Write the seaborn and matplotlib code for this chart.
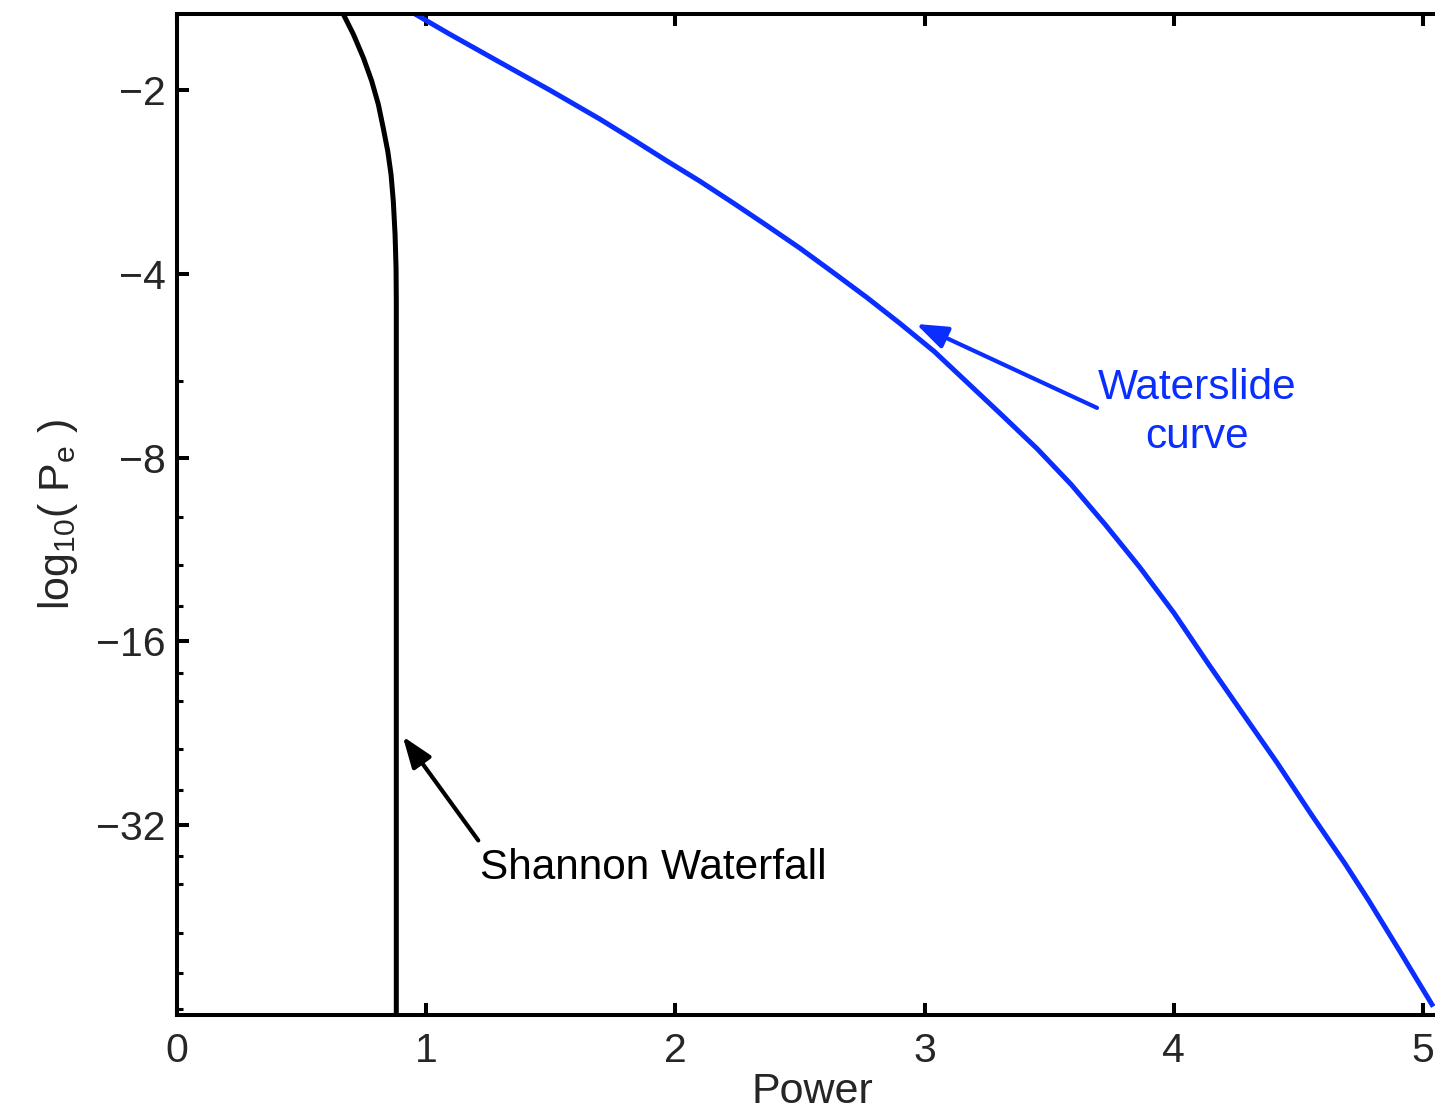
import numpy as np
import pandas as pd
import matplotlib
matplotlib.use("Agg")
import matplotlib.pyplot as plt
import seaborn as sns

# ---------------- data ----------------
shannon_power = [0.667, 0.708, 0.748, 0.781, 0.808, 0.828, 0.846, 0.859,
                 0.868, 0.875, 0.879, 0.880, 0.880, 0.880]
shannon_log10pe = [-1.50, -1.62, -1.77, -1.93, -2.11, -2.31, -2.52, -2.75,
                   -3.04, -3.44, -3.91, -4.43, -8.0, -66.0]

waterslide_power = [0.955, 1.096, 1.296, 1.497, 1.697, 1.831, 1.965, 2.099,
                    2.232, 2.366, 2.500, 2.634, 2.768, 2.901, 3.039, 3.176,
                    3.313, 3.451, 3.588, 3.726, 3.863, 4.001, 4.138, 4.276,
                    4.413, 4.551, 4.688, 4.781, 4.908, 5.041]
waterslide_log10pe = [-1.50, -1.62, -1.80, -2.00, -2.23, -2.41, -2.61, -2.82,
                      -3.06, -3.33, -3.63, -3.98, -4.37, -4.82, -5.36, -6.05,
                      -6.83, -7.73, -8.85, -10.31, -12.09, -14.38, -17.40, -20.98,
                      -25.24, -30.70, -37.06, -42.45, -51.58, -63.45]

x_ticks = [0, 1, 2, 3, 4, 5]
x_tick_labels = ["0", "1", "2", "3", "4", "5"]
y_major = [-2, -4, -8, -16, -32]
y_major_labels = ["\u22122", "\u22124", "\u22128", "\u221216", "\u221232"]
y_minor = [-6, -10, -12, -14, -18, -20, -24, -28, -36, -40, -48, -56, -64]

shannon_df = pd.DataFrame({"Power": shannon_power, "log10Pe": shannon_log10pe})
water_df = pd.DataFrame({"Power": waterslide_power, "log10Pe": waterslide_log10pe})

# ---------------- style ----------------
sns.set_style("ticks")
plt.rcParams["font.family"] = ["Liberation Sans", "DejaVu Sans"]
plt.rcParams["mathtext.fontset"] = "custom"
plt.rcParams["mathtext.rm"] = "Liberation Sans"
plt.rcParams["mathtext.default"] = "regular"

BLUE = "#0a2eff"
FS = 29.5
FS_ANN = 30.5

fig = plt.figure(figsize=(14.35, 11.13), dpi=100)
ax = fig.add_axes([177 / 1435, (1113 - 1015) / 1113, 5.1 * 249.2 / 1435, 1001 / 1113])
ax.set_facecolor("white")


def fwd(v):
    v = np.asarray(v, dtype=float)
    return -np.log2(np.clip(-v, 1e-12, None))


def inv(t):
    return -np.power(2.0, -np.asarray(t, dtype=float))


ax.set_yscale("function", functions=(fwd, inv))

sns.lineplot(data=shannon_df, x="Power", y="log10Pe", ax=ax, color="black",
             lw=3.6, sort=False, estimator=None, legend=False)
sns.lineplot(data=water_df, x="Power", y="log10Pe", ax=ax, color=BLUE,
             lw=3.6, sort=False, estimator=None, legend=False)
for ln in ax.lines:
    ln.set_solid_joinstyle("round")
    ln.set_solid_capstyle("butt")

ax.set_xlim(0, 5.1)
ax.set_ylim(-65.5, -1.5)

ax.set_xticks(x_ticks, labels=x_tick_labels)
ax.set_yticks(y_major, labels=y_major_labels)
ax.set_yticks(y_minor, minor=True)
ax.xaxis.set_minor_locator(matplotlib.ticker.NullLocator())

for s in ax.spines.values():
    s.set_visible(True)
    s.set_linewidth(2.9)
    s.set_color("black")

ax.tick_params(which="major", direction="in", top=True, right=True,
               length=8.6, width=2.9, labelsize=FS, color="black")
ax.tick_params(axis="x", which="major", pad=12)
ax.tick_params(axis="y", which="major", pad=8)
ax.tick_params(which="minor", direction="in", top=False, right=True,
               length=4.3, width=2.2, color="black")

ax.set_xlabel("Power", fontsize=31, labelpad=1.5)
ax.set_ylabel(r"log$_{10}$( P$_{e}$ )", fontsize=31, labelpad=12)
ax.grid(False)

# ---------------- annotations ----------------
arrow_style = "-|>,head_length=0.9,head_width=0.33"
ax.annotate("", xy=(2.966, -4.83), xytext=(3.692, -6.63),
            arrowprops=dict(arrowstyle=arrow_style, color=BLUE, lw=3.0,
                            mutation_scale=21, shrinkA=0, shrinkB=0))
ax.text(4.093, -6.41, "Waterslide", color=BLUE, fontsize=FS_ANN,
        ha="center", va="baseline")
ax.text(4.093, -7.70, "curve", color=BLUE, fontsize=FS_ANN,
        ha="center", va="baseline")

ax.annotate("", xy=(0.906, -22.9), xytext=(1.209, -33.9),
            arrowprops=dict(arrowstyle=arrow_style, color="black", lw=3.0,
                            mutation_scale=21, shrinkA=0, shrinkB=0))
ax.text(1.216, -39.2, "Shannon Waterfall", color="black", fontsize=FS_ANN,
        ha="left", va="baseline")

fig.savefig("out.png", dpi=100, facecolor="white")
